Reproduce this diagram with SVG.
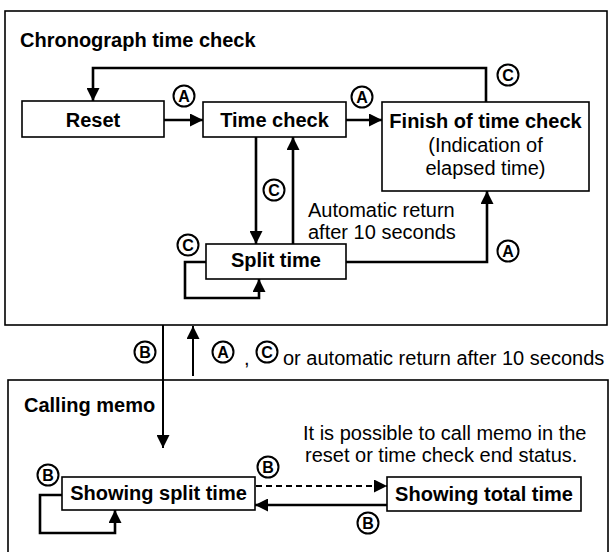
<svg xmlns="http://www.w3.org/2000/svg" width="611" height="552" viewBox="0 0 611 552">
<style>
.frame{fill:none;stroke:#000;stroke-width:1.6}
.box{fill:#fff;stroke:#000;stroke-width:1.6}
.b{font-family:"Liberation Sans",Arial,sans-serif;font-weight:bold;font-size:20px;fill:#000}
.r{font-family:"Liberation Sans",Arial,sans-serif;font-size:20px;fill:#000}
.c{text-anchor:middle}
.ln{fill:none;stroke:#000;stroke-width:2.6}
.dash{fill:none;stroke:#000;stroke-width:2.2;stroke-dasharray:6 4}
.thin{fill:none;stroke:#000;stroke-width:2}
.lc circle{fill:#fff;stroke:#000;stroke-width:2}
.lc text{font-family:"Liberation Sans",Arial,sans-serif;font-weight:bold;font-size:16px;text-anchor:middle;fill:#000}
</style>
<defs>
<marker id="ah" viewBox="0 0 12 12" refX="12" refY="6" markerWidth="13" markerHeight="13" markerUnits="userSpaceOnUse" orient="auto">
<path d="M0,0 L12,6 L0,12 z" fill="#000"/>
</marker>
</defs>
<rect width="611" height="552" fill="#fff"/>

<g id="chronograph-frame">
<rect class="frame" x="5" y="11" width="602" height="314"/>
<text class="b" x="20" y="47">Chronograph time check</text>
</g>
<g id="memo-frame">
<rect class="frame" x="8" y="380" width="600" height="190"/>
<text class="b" x="24" y="412">Calling memo</text>
</g>

<g id="connectors">
<path class="ln" d="M486,102 V68 H93 V101" marker-end="url(#ah)"/>
<path class="ln" d="M164,120 H203" marker-end="url(#ah)"/>
<path class="ln" d="M346,120 H382" marker-end="url(#ah)"/>
<path class="ln" d="M256,137 V244" marker-end="url(#ah)"/>
<path class="ln" d="M293,244 V137" marker-end="url(#ah)"/>
<path class="ln" d="M346,262 H487 V191" marker-end="url(#ah)"/>
<path class="ln" d="M206,262 H185 V298 H259 V279" marker-end="url(#ah)"/>
<path class="thin" d="M163,325 V448" marker-end="url(#ah)"/>
<path class="thin" d="M193,376 V326" marker-end="url(#ah)"/>
<path class="dash" d="M256,486 H387" marker-end="url(#ah)"/>
<path class="ln" d="M387,505 H255" marker-end="url(#ah)"/>
<path class="ln" d="M62,495 H40 V533 H115 V510" marker-end="url(#ah)"/>
</g>

<g id="reset"><rect class="box" x="22" y="101" width="142" height="36"/><text class="b c" x="93" y="127">Reset</text></g>
<g id="time-check"><rect class="box" x="203" y="102" width="143" height="35"/><text class="b c" x="274.5" y="127">Time check</text></g>
<g id="finish"><rect class="box" x="382" y="102" width="207" height="89"/>
<text class="b c" x="485.5" y="128">Finish of time check</text>
<text class="r c" x="485.5" y="152">(Indication of</text>
<text class="r c" x="485.5" y="175">elapsed time)</text></g>
<g id="split-time"><rect class="box" x="206" y="244" width="140" height="35"/><text class="b c" x="276" y="267">Split time</text></g>
<g id="showing-split"><rect class="box" x="62" y="477" width="193" height="33"/><text class="b c" x="158.5" y="500">Showing split time</text></g>
<g id="showing-total"><rect class="box" x="387" y="477" width="194" height="34"/><text class="b c" x="484" y="501">Showing total time</text></g>

<g id="notes">
<text class="r" x="244" y="365">,</text>
<text class="r" x="308" y="217">Automatic return</text>
<text class="r" x="308" y="239">after 10 seconds</text>
<text class="r" x="283" y="365">or automatic return after 10 seconds</text>
<text class="r" x="303" y="440">It is possible to call memo in the</text>
<text class="r" x="305" y="462">reset or time check end status.</text>
</g>

<g id="labels">
<g class="lc"><circle cx="184" cy="96" r="10.5"/><text x="184" y="101.8">A</text></g>
<g class="lc"><circle cx="362" cy="97" r="10.5"/><text x="362" y="102.8">A</text></g>
<g class="lc"><circle cx="508" cy="75" r="10.5"/><text x="508" y="80.8">C</text></g>
<g class="lc"><circle cx="274" cy="190" r="10.5"/><text x="274" y="195.8">C</text></g>
<g class="lc"><circle cx="188" cy="245" r="10.5"/><text x="188" y="250.8">C</text></g>
<g class="lc"><circle cx="508" cy="251" r="10.5"/><text x="508" y="256.8">A</text></g>
<g class="lc"><circle cx="145" cy="352" r="10.5"/><text x="145" y="357.8">B</text></g>
<g class="lc"><circle cx="223" cy="352" r="10.5"/><text x="223" y="357.8">A</text></g>
<g class="lc"><circle cx="267" cy="352" r="10.5"/><text x="267" y="357.8">C</text></g>
<g class="lc"><circle cx="48" cy="475" r="10.5"/><text x="48" y="480.8">B</text></g>
<g class="lc"><circle cx="268" cy="467" r="10.5"/><text x="268" y="472.8">B</text></g>
<g class="lc"><circle cx="368" cy="523" r="10.5"/><text x="368" y="528.8">B</text></g>
</g>
</svg>
